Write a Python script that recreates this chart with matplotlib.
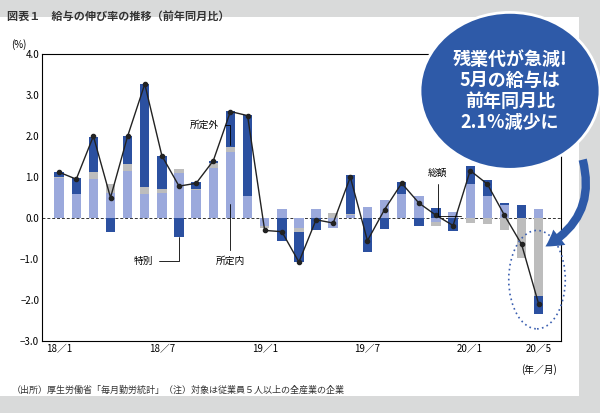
import numpy as np
import matplotlib.pyplot as plt
from matplotlib.patches import Ellipse, FancyBboxPatch, FancyArrowPatch

plt.rcParams['font.family'] = 'Noto Sans CJK JP'

# monthly values, 2018/1 - 2020/5 (%)
months = list(range(29))
shoteinai = [0.98, 0.58, 0.95, 0.62, 1.15, 0.60, 0.62, 1.10, 0.68, 1.22, 1.62, 0.55,
             -0.20, 0.23, -0.25, 0.23, -0.25, 0.08, 0.27, 0.45, 0.58, 0.55,
             -0.10, 0.15, 0.84, 0.55, 0.33, 0.00, 0.23]
shoteigai = [0.02, 0.02, 0.17, 0.20, 0.18, 0.17, 0.08, 0.10, 0.02, 0.13, 0.12, 0.00,
             -0.05, 0.00, -0.09, 0.00, 0.13, 0.02, 0.00, 0.00, 0.02, 0.00,
             -0.08, 0.00, -0.11, -0.14, -0.30, -0.98, -1.89]
tokubetsu = [0.13, 0.37, 0.85, -0.35, 0.67, 2.50, 0.82, -0.45, 0.17, 0.05, 0.88, 1.97,
             0.00, -0.57, -0.73, -0.30, 0.00, 0.94, -0.83, -0.26, 0.28, -0.20,
             0.24, -0.32, 0.43, 0.39, 0.05, 0.33, -0.45]
sougaku = [1.12, 0.95, 2.00, 0.50, 2.00, 3.27, 1.52, 0.78, 0.85, 1.40, 2.60, 2.50,
           -0.30, -0.33, -1.07, -0.04, -0.12, 1.00, -0.55, 0.21, 0.85, 0.37,
           0.07, -0.18, 1.16, 0.83, 0.07, -0.64, -2.10]
tick_pos = [0, 6, 12, 18, 24, 28]
tick_lab = ['18／1', '18／7', '19／1', '19／7', '20／1', '20／5']

c_in, c_out, c_sp = '#9ba9dc', '#bdbdbd', '#2b50a0'

fig = plt.figure(figsize=(6, 4.13), dpi=100, facecolor='#d9dada')
fig.patches.append(FancyBboxPatch((0.0, 0.04), 0.965, 0.92, boxstyle='square,pad=0',
                                  transform=fig.transFigure, fc='white', ec='none', zorder=-1))
ax = fig.add_axes([0.07, 0.174, 0.865, 0.695])

pos_base = np.zeros(29)
neg_base = np.zeros(29)
for vals, col in [(shoteinai, c_in), (shoteigai, c_out), (tokubetsu, c_sp)]:
    v = np.array(vals)
    base = np.where(v >= 0, pos_base, neg_base)
    ax.bar(months, v, bottom=base, width=0.55, color=col, zorder=2)
    pos_base += np.where(v >= 0, v, 0)
    neg_base += np.where(v < 0, v, 0)
ax.plot(months, sougaku, '-', color='#222222', lw=1, marker='o', ms=3, zorder=3)
ax.axhline(0, color='#333333', lw=0.7, ls=(0, (3, 2)), zorder=1)

ax.set_xlim(-1, 29.3)
ax.set_ylim(-3, 4)
ax.set_yticks(np.arange(-3, 4.1, 1))
ax.set_yticklabels([f'{v:.1f}'.replace('-', '−') for v in np.arange(-3, 4.1, 1)], fontsize=7)
ax.set_xticks(tick_pos)
ax.set_xticklabels(tick_lab, fontsize=7)
ax.tick_params(length=0, pad=2)
for s in ax.spines.values():
    s.set_linewidth(0.8)
ax.text(-0.045, 1.02, '(%)', transform=ax.transAxes, fontsize=7, ha='center')
ax.text(28, -3.55, '(年／月)', fontsize=7, ha='center', va='top')

# labels
ax.annotate('所定外', xy=(10, 1.72), xytext=(8.5, 2.2), fontsize=7, ha='center',
            arrowprops=dict(arrowstyle='-', lw=0.6, connectionstyle='angle,angleA=0,angleB=90'))
ax.annotate('特別', xy=(7, -0.4), xytext=(5.5, -1.05), fontsize=7, ha='right', va='center',
            arrowprops=dict(arrowstyle='-', lw=0.6, connectionstyle='angle,angleA=0,angleB=90'))
ax.annotate('所定内', xy=(10, 0.4), xytext=(10, -1.05), fontsize=7, ha='center', va='center',
            arrowprops=dict(arrowstyle='-', lw=0.6))
ax.annotate('総額', xy=(23.6, 0.05), xytext=(22.1, 1.1), fontsize=7, ha='center', va='center',
            arrowprops=dict(arrowstyle='-', lw=0.6, connectionstyle='angle,angleA=-90,angleB=0'))

ax.add_patch(Ellipse((27.9, -1.5), 3.3, 2.4, fill=False, ec='#3b5fb0', ls=(0, (1, 2)), lw=1.2,
                     zorder=4, clip_on=False))

# speech bubble
fig.patches.append(Ellipse((0.85, 0.78), 0.30, 0.38, transform=fig.transFigure,
                           fc='#2e5aa8', ec='white', lw=2, zorder=5))
fig.text(0.85, 0.78, '残業代が急減!\n5月の給与は\n前年同月比\n2.1%減少に', color='white',
         fontsize=13, fontweight='bold', ha='center', va='center', linespacing=1.15, zorder=6)
fig.patches.append(FancyArrowPatch((0.97, 0.62), (0.905, 0.4), transform=fig.transFigure,
                                   connectionstyle='arc3,rad=-0.4', arrowstyle='simple,head_width=14,head_length=12,tail_width=6',
                                   fc='#2e5aa8', ec='none', zorder=5))

fig.text(0.012, 0.975, '図表１　給与の伸び率の推移（前年同月比）', fontsize=8, fontweight='bold',
         color='#333333', va='top')
fig.text(0.02, 0.045, '（出所）厚生労働省「毎月勤労統計」（注）対象は従業員５人以上の全産業の企業',
         fontsize=6.5, color='#333333', va='bottom')

fig.savefig('out.png', dpi=100, facecolor=fig.get_facecolor())
